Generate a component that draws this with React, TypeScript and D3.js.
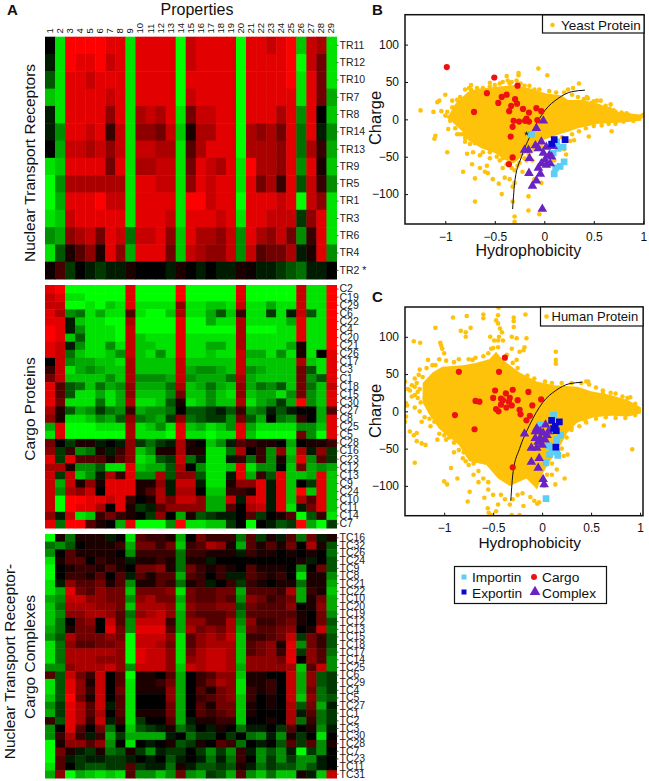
import * as d3 from "d3";
import { useEffect, useRef } from "react";

// heatmap values: -9 full green, 0 black, 9 full red
const receptorLabels = ["TR11","TR12","TR10","TR7","TR8","TR14","TR13","TR9","TR5","TR1","TR3","TR6","TR4","TR2 *"];
const receptorRows = [
  [0,-8,9,9,9,9,8,8,-8,8,8,8,8,-9,7,8,8,8,8,-9,8,8,7,8,9,-7,7,6,-8],
  [-1,-8,9,8,8,9,7,8,-8,8,8,8,8,-9,7,8,8,8,8,-9,8,8,8,8,9,-9,7,4,-8],
  [-3,-8,8,8,7,8,8,8,-8,8,8,8,8,-9,8,8,8,8,8,-9,8,8,8,8,9,-8,8,4,-8],
  [-7,-8,8,8,8,8,7,8,-8,8,8,8,8,-9,7,8,8,8,8,-9,8,8,8,8,8,-8,8,4,-6],
  [-1,-8,8,8,8,8,5,8,-8,6,7,6,8,-8,4,7,7,8,8,-9,8,8,8,6,8,-5,8,0,-7],
  [-1,-5,8,8,7,8,2,7,-8,5,5,4,7,-7,1,6,6,8,8,-9,6,5,6,4,8,-4,8,-1,-5],
  [0,-6,7,7,6,7,5,7,-8,7,7,6,6,-8,3,6,8,8,8,-9,6,6,6,5,8,-4,6,2,-6],
  [-8,-7,8,8,8,8,4,8,-8,6,6,7,7,-8,4,8,7,6,8,-8,9,6,6,5,8,-5,8,1,-7],
  [-9,-5,6,6,6,6,6,6,-8,8,8,7,7,-8,5,8,7,8,8,-8,8,4,6,2,8,-3,7,2,-5],
  [-9,-6,8,8,8,9,7,7,-8,8,8,8,8,-8,9,9,7,8,8,-9,8,8,8,7,8,-9,7,5,-8],
  [-8,-7,7,8,8,8,8,8,-8,8,8,8,7,-8,8,8,8,7,8,-8,8,8,7,7,7,-2,5,8,-8],
  [-5,-6,5,6,7,4,8,7,-4,7,7,8,5,-7,8,6,6,5,7,-5,8,6,5,7,4,-5,2,8,-8],
  [-8,-3,1,3,5,1,8,5,-6,8,8,8,4,-7,7,6,5,5,7,-5,7,3,4,4,6,-1,1,8,-5],
  [0.5,2.5,-2,0,-1,-2,-1,-1,1,0,0,0,-1,1,0,-1,0,-1,-1,1,0.5,-1,-1,-2,-3,-4,-1,-1,0],
];

const cargoLabels = ["C2","C19","C29","C6","C22","C4","C20","C21","C26","C17","C3","C1","C18","C15","C30","C27","C8","C25","C5","C28","C16","C23","C12","C13","C9","C24","C10","C11","C14","C7"];
const cargoRows = [
  [8,9,-9,-9,-9,-9,-9,-9,8,-9,-9,-9,-9,9,-9,-9,-9,-9,-9,8,-9,-9,-9,-9,-9,7,-8,-8,9],
  [7,8,-8,-8,-9,-9,-9,-9,8,-9,-9,-9,-9,9,-9,-9,-9,-9,-9,8,-9,-9,-9,-9,-9,7,-8,-8,9],
  [7,7,-9,-9,-8,-9,-7,-8,8,-8,-8,-8,-8,5,-8,-8,-7,-7,-8,7,-8,-8,-6,-8,-8,7,-8,-8,9],
  [8,6,-5,-4,-8,-6,-8,-8,3,-8,-9,-9,-7,6,-8,-8,-6,-3,-7,2,-8,-8,-2,-8,-1,7,-3,-8,9],
  [8,8,-1,-7,-8,-8,-9,-9,6,-9,-9,-9,-9,8,-9,-9,-6,-8,-8,6,-8,-8,-8,-8,-6,8,-8,-8,9],
  [9,8,-1,-5,-8,-8,-8,-9,7,-9,-9,-9,-9,8,-9,-9,-9,-9,-9,6,-9,-9,-9,-8,-8,8,-8,-8,9],
  [9,8,-7,-3,-8,-8,-8,-9,7,-7,-8,-8,-8,8,-8,-8,-8,-8,-8,6,-8,-8,-8,-8,-8,8,-8,-8,9],
  [8,7,-1,-5,-8,-8,-5,-8,7,-7,-7,-8,-8,8,-8,-8,-6,-6,-8,6,-8,-8,-8,-8,-6,1,-8,-8,9],
  [8,7,-4,-7,-8,-8,-7,-5,7,-7,-8,-5,-8,8,-8,-8,-7,-8,-8,7,-6,-6,-8,-5,-8,1,-8,0,8],
  [0,7,-5,-6,-6,-7,-7,-8,6,-7,-7,-7,-7,7,-7,-7,-7,-7,-7,7,-7,-7,-7,-7,-7,6,-7,-8,8],
  [2,7,-8,-6,-5,-6,-7,-7,6,-7,-7,-7,-7,7,-6,-5,-5,-6,-7,7,-5,-6,-7,-7,-7,4,-3,-8,8],
  [4,7,-7,-7,-7,-7,-5,-7,6,-5,-5,-5,-6,7,-5,-6,-6,-6,-4,6,-6,-7,-7,-7,-7,4,-5,-3,8],
  [8,3,-3,-4,-7,-4,-6,-5,5,-6,-6,-6,-4,6,-7,-6,-4,-6,-7,5,-6,-4,-5,-3,-7,4,-4,-7,7],
  [8,3,-3,-8,-8,-6,-8,-6,5,-7,-7,-7,-5,4,-7,-7,-5,-7,-8,5,-7,-6,-6,-8,-5,4,-5,-7,8],
  [8,4,-8,-8,-8,-4,-8,-6,6,-8,-8,-7,-3,1,-8,-7,-5,-7,-7,6,-8,-6,-5,-2,-6,9,-5,-7,8],
  [6,1,-3,-6,-5,-2,-4,-5,2,-6,-5,-5,-4,0,-3,-3,-2,-1,-3,2,-5,-4,-1,-3,-1,0,0,-6,3],
  [5,1,-8,-8,-7,-5,-6,-3,5,-4,-5,-6,-2,5,-4,-3,-2,-2,-5,4,-3,-6,0,-4,-5,2,0,-6,8],
  [-6,8,-9,-9,-9,-8,-8,-8,6,-8,-7,-5,-8,8,-7,-6,-8,-7,-5,8,-6,-8,-8,-8,-8,-5,-5,-7,8],
  [-8,8,-9,-9,-9,-9,-9,-9,6,-8,-8,-8,-9,8,-8,-8,-9,-8,-8,8,-7,-9,-9,-9,-9,4,-5,-9,8],
  [4,0,-2,1,1,-1,0,-1,5,-2,-4,-2,-1,6,1,0,-7,-5,-1,3,2,1,1,0,-6,0,1,1,2],
  [5,-2,2,-5,-4,1,-1,2,5,-7,-5,1,1,6,1,1,-8,-8,-4,6,0,2,-5,5,-7,6,-1,5,-2],
  [8,-2,8,3,3,3,1,3,5,-8,-7,-3,-2,7,-4,-1,-8,-8,-1,2,-4,2,-5,1,-6,8,-5,3,-2],
  [6,6,1,-5,-5,-3,-8,-8,8,-7,-6,-6,-3,6,0,-5,-8,-8,-7,8,-8,-5,-5,0,-7,4,-6,-5,-6],
  [7,-2,7,-7,-5,-1,6,2,8,-5,-5,6,-3,5,5,-3,-8,-8,-1,8,-6,2,-3,8,-7,-7,-6,8,-7],
  [7,-6,7,1,5,1,8,8,8,1,1,5,-1,7,7,-1,-8,-8,1,5,5,8,-1,8,-7,0,-2,8,-7],
  [7,-5,6,5,7,0,8,8,8,1,3,6,-1,6,6,0,-7,-7,2,2,1,8,-1,8,-7,9,-7,8,-7],
  [7,-9,9,9,8,8,7,8,2,0,1,6,4,7,7,5,-6,-6,7,-1,7,8,-1,8,-7,6,3,8,-7],
  [7,-9,9,8,8,6,0,8,1,-2,-1,3,5,5,5,5,-6,-6,3,0,6,7,-1,8,-8,-1,4,8,-7],
  [5,-1,7,-8,-7,2,4,2,1,0,-2,5,0,-6,1,-3,-2,-1,-1,0,3,-2,0,1,3,-9,-3,2,-8],
  [8,-4,9,9,3,1,0,-6,8,-9,-9,-9,-5,9,-8,-8,-7,-7,-2,0,-9,0,-1,-3,-2,9,-6,-9,-2],
];

const complexLabels = ["TC16","TC32","TC26","TC24","TC9","TC8","TC21","TC22","TC10","TC20","TC19","TC12","TC13","TC15","TC18","TC17","TC14","TC25","TC6","TC29","TC4","TC5","TC27","TC1","TC2","TC3","TC30","TC28","TC7","TC23","TC11","TC31"];
const complexRows = [
  [-9,1,-4,1,1,1,-1,0,-8,3,2,2,1,-6,0,4,2,2,2,-4,3,-2,1,-1,3,-4,4,-1,1],
  [-4,-5,-3,0,1,1,1,2,-6,4,4,2,4,-7,2,3,6,5,1,-6,3,1,3,1,4,0,6,1,-3],
  [-5,0,3,1,1,1,1,0,-5,2,2,2,2,-4,2,2,1,1,1,-1,2,1,1,0,1,0,1,0,-4],
  [-8,1,3,3,0,2,1,1,-1,1,1,2,1,-4,1,1,-1,0,0,0,0,0,0,0,0,1,-1,0,-3],
  [-9,0,1,2,2,1,3,1,0,4,4,5,1,-4,4,2,1,2,1,0,3,1,1,1,0,-5,0,4,-3],
  [-9,0,2,2,1,3,0,3,-1,3,1,3,3,-6,3,2,0,2,-1,-1,3,2,1,2,0,-8,1,1,-5],
  [-8,-1,5,3,3,4,1,3,-5,1,1,3,2,-4,1,2,-1,0,2,-2,2,1,0,1,1,-4,1,1,-6],
  [-8,-6,8,4,3,5,4,4,-7,4,4,4,5,-8,4,3,3,4,4,-6,3,3,3,2,6,-6,2,1,-7],
  [-6,-5,7,7,5,5,4,4,-5,5,6,4,4,-6,4,3,3,4,3,-5,5,4,2,3,4,-6,1,4,-6],
  [-7,-4,6,6,6,5,5,4,-7,6,6,6,5,-7,5,4,4,5,5,-3,4,3,3,3,5,0,1,5,-6],
  [-7,-5,5,5,6,6,5,3,-4,5,6,7,5,-6,4,3,3,3,4,-4,3,3,3,3,3,1,0,4,-5],
  [-7,-4,0,4,5,0,7,3,-5,7,7,7,2,-6,5,5,3,3,6,-5,5,2,2,3,4,1,0,4,-3],
  [-6,-4,1,4,4,0,8,4,-5,8,8,8,3,-6,6,4,5,4,6,-6,4,3,3,4,5,0,1,7,-4],
  [-5,-3,6,4,4,4,5,4,-9,7,7,7,5,-8,3,5,6,5,7,-7,2,2,3,4,7,-2,4,2,-3],
  [-8,-4,5,3,3,4,4,5,-9,7,7,6,4,-8,3,5,6,6,6,-7,3,4,5,1,8,-5,4,2,-3],
  [-8,-4,6,6,6,6,6,5,-9,8,7,7,5,-8,4,6,7,7,6,-7,3,4,5,2,8,-2,5,3,-4],
  [-8,-4,6,6,6,5,5,5,-9,8,7,7,5,-8,5,6,7,7,6,-7,5,5,5,4,8,0,5,3,-5],
  [-5,-5,5,6,6,6,7,5,-5,7,7,7,5,-7,7,6,7,7,6,-6,5,5,5,5,6,-7,3,7,-5],
  [3,-3,7,4,2,7,0,3,-9,1,1,0,3,-6,0,2,3,5,5,-7,1,1,0,0,7,-6,5,-3,-2],
  [-8,-3,8,5,1,7,0,3,-8,1,1,2,4,-6,0,2,4,6,5,-8,1,1,2,0,7,-6,5,-3,-2],
  [-8,-3,8,5,2,7,0,4,-8,1,1,1,5,-6,0,3,1,4,5,-8,2,1,2,0,7,-6,4,-4,-2],
  [-7,-3,9,4,1,7,0,3,-8,0,0,0,5,-6,0,2,3,4,5,-7,2,0,1,0,7,-7,5,-4,-3],
  [-5,-2,8,6,3,7,-1,3,-8,0,0,0,4,-6,0,3,1,4,4,-7,1,0,1,0,6,-3,4,-6,-1],
  [-6,-2,8,6,3,6,0,3,-8,1,1,1,4,-6,0,3,2,3,4,-7,1,0,0,0,6,-1,3,-4,-2],
  [2,-3,8,6,2,7,-1,2,-8,-2,0,0,3,-6,-1,1,1,2,2,-7,0,0,1,0,6,-4,2,-4,-2],
  [-5,0,8,3,0,4,-4,0,-7,-3,-2,-1,1,-4,-2,0,-1,1,0,-4,-1,-1,0,-2,3,0,1,-5,-1],
  [-5,2,6,2,-1,2,-6,-2,-6,-6,-6,-6,-1,0,-4,-2,-2,0,-2,0,-4,-5,-1,-5,1,-2,0,-8,0],
  [-9,1,5,5,3,5,-5,0,-8,0,-1,0,1,-3,-2,1,0,3,2,-4,0,-1,0,-3,3,-2,3,-5,1],
  [-9,4,1,-1,-2,1,-4,-3,1,-2,-5,-1,-2,-2,0,-2,-5,-2,-5,2,-1,-5,-3,-5,-1,-9,-2,-5,0],
  [-9,3,-1,-2,-1,-1,-2,-2,-1,0,-1,0,-3,-1,0,-1,-4,-1,-4,2,0,-5,-2,-5,-2,-5,-5,-1,0],
  [-8,3,0,-2,-3,-3,-2,-2,3,-2,-1,-1,-4,1,-1,-3,-3,-2,-3,1,-1,-4,-2,-3,-3,-5,-3,-1,0],
  [-6,5,-9,-6,-7,-8,-7,-8,3,-5,-5,-7,-5,4,-5,-6,-2,-3,-6,3,-5,-7,-4,-7,-7,1,-1,-7,7],
];

const properties = d3.range(1, 30).map(String);

// [hydrophobicity, charge]; the core is the outline of the solid part of each cloud
const yeastCore = [[-0.97,4],[-0.9,21],[-0.77,37],[-0.67,41],[-0.46,44],[-0.3,46],[-0.13,41],[0.01,35],[0.175,32],[0.24,26],[0.38,26],[0.55,21],[0.75,10],[0.98,6],[0.98,-2],[0.75,-4.5],[0.55,-6],[0.34,-12],[0.24,-16.5],[0.175,-19],[0.07,-24],[-0.06,-30],[-0.13,-39],[-0.23,-50],[-0.31,-59],[-0.4,-54],[-0.5,-45],[-0.63,-39],[-0.77,-28],[-0.83,-16],[-0.92,-5]];
const yeastPoints = [[-1.25,12],[-1.12,10],[-1.04,11],[-1.08,23],[-1.06,25],[-1,33],[-0.93,25],[-0.88,26],[-0.97,-13],[-0.98,-44],[-1.1,-22],[-1.11,-26],[-0.87,18],[-0.9,10],[-0.96,3],[-0.85,-20],[-0.82,-20],[-0.8,-30],[-0.82,-70],[-0.78,-46],[-0.72,-44],[-0.73,-60],[-0.7,-79],[-0.7,-110],[-0.65,-48],[-0.65,-65],[-0.6,-70],[-0.57,-72],[-0.58,-62],[-0.52,-80],[-0.46,-86],[-0.43,-100],[-0.4,-78],[-0.35,-80],[-0.32,-110],[-0.3,-130],[-0.3,-137],[-0.16,-103],[-0.16,-122],[-0.05,-127],[-0.03,-85],[-0.05,-65],[-0.1,-80],[-0.32,-90],[-0.3,-85],[-0.27,-62],[-0.22,-70],[-0.06,68],[0.03,59],[-0.26,62],[-0.26,59],[-0.38,58],[-0.37,52],[-0.33,50],[-0.55,49],[-0.74,46],[-0.74,40],[-0.68,42],[-0.6,38],[-0.35,48],[-0.2,45],[-0.1,40],[0.35,48],[0.29,42],[0.24,40],[0.43,30],[0.44,28],[0.57,25],[0.67,20],[0.7,12],[0.68,-16],[0.45,-23],[0.3,-28],[0.26,-29],[0.2,-40],[0.1,-55],[0.22,-47],[0.1,-70],[0.87,4],[0.92,3],[0.95,2],[1,6],[0.98,4],[0.8,5],[0.62,18],[0.5,24],[0.85,6],[-0.15,-45],[-0.18,-55],[-0.12,-55],[-0.45,-55],[-0.55,-52],[-0.42,-65],
  [-0.8,40],[-0.76,42],[-0.72,35],[-0.62,42],[-0.55,44],[-0.5,46],[-0.45,48],[-0.42,50],[-0.28,52],[-0.24,48],[-0.15,45],[-0.05,40],[0.05,38],[0.12,36],[0.2,36],[0.28,33],[0.34,30],[0.4,27],[0.48,22],[0.53,25],[0.6,15],[0.66,14],[0.72,10],[0.78,9],[0.83,8],
  [-0.9,-12],[-0.88,-20],[-0.8,-25],[-0.75,-33],[-0.7,-32],[-0.62,-44],[-0.55,-44],[-0.48,-50],[-0.42,-52],[-0.38,-60],[-0.33,-65],[-0.3,-68],[-0.25,-58],[-0.2,-52],[-0.16,-46],[-0.1,-40],[-0.03,-36],[0.1,-28],[0.18,-24],[0.28,-20],[0.35,-16],[0.42,-12],[0.5,-9],[0.58,-8],[0.65,-6],[0.72,-6],[0.8,-3],[0.9,-2],[-0.98,10],[-1,5],[-0.95,-2],[-0.93,16],[-0.85,30]];
const yeastCargo = [[-0.985,70],[-0.505,56],[-0.58,35],[-0.27,45],[-0.71,10],[-0.43,30],[-0.38,33],[-0.465,22],[-0.295,27],[-0.275,21],[-0.335,18],[-0.355,11],[-0.215,14],[-0.155,9],[-0.08,15],[-0.03,11],[-0.07,-1],[-0.31,-2],[-0.255,-3],[-0.195,-2],[-0.18,1],[-0.155,-3],[-0.32,-10],[-0.34,-23],[-0.32,-51],[-0.357,-60]];
const yeastComplex = [[-0.01,-2],[-0.08,-12],[-0.03,-30],[-0.09,-35],[-0.16,-41],[-0.2,-41],[-0.15,-52],[0.02,-37],[-0.01,-45],[-0.06,-39],[0.05,-48],[0.007,-54],[-0.03,-59],[0.06,-59],[-0.06,-65],[-0.155,-72],[-0.04,-73],[-0.08,-82],[-0.12,-89],[-0.02,-120],[0.074,-50],[0.02,-61],[0.09,-36]];
const yeastImportin = [[-0.13,-20],[0.125,-30],[0.19,-37],[0.09,-45],[0.2,-57],[0.16,-63],[0.115,-65],[0.1,-73],[0.14,-39]];
const yeastExportin = [[0.1,-27],[0.21,-27],[0.074,-33]];
const starPoint = [[-0.18,-19]];

const humanCore = [[-1.22,38],[-1.12,52],[-1.02,60],[-0.81,62],[-0.68,65],[-0.54,70],[-0.47,80],[-0.4,69],[-0.23,52],[-0.055,40],[0.12,35],[0.36,33],[0.5,27],[0.7,22],[0.88,15],[1.01,5],[1.01,-3],[0.88,-7],[0.7,-6],[0.53,-8],[0.36,-15],[0.255,-29],[0.19,-45],[0.08,-67],[0,-85],[-0.05,-105],[-0.16,-90],[-0.33,-100],[-0.45,-90],[-0.57,-72],[-0.745,-67],[-0.85,-45],[-1.055,-23],[-1.16,-3],[-1.22,12]];
const humanPoints = [[-0.445,139],[-0.91,126],[-0.77,128],[-0.6,130],[-0.6,125],[-0.45,129],[-0.29,126],[-0.29,121],[-0.17,130],[-1.09,112],[-0.83,108],[-0.78,106],[-0.73,112],[-0.78,100],[-0.47,122],[-0.45,118],[-0.43,111],[-0.41,106],[-0.29,113],[-0.31,100],[-0.53,100],[-0.49,95],[-0.45,95],[-0.4,95],[-0.26,98],[-0.16,98],[-0.18,86],[-0.19,82],[-1.31,94],[-1.245,92],[-1.04,92],[-1.03,88],[-1.02,84],[-1,78],[-1.165,69],[0.14,80],[0.14,69],[0.14,64],[-0.52,84],[-0.45,86],[-0.31,84],[-0.23,80],[-0.26,69],[-0.71,69],[-1.09,62],[-1.26,49],[-1.4,40],[-1.33,35],[-1.39,11],[-1.39,-7],[-1.4,-14],[-1.35,-27],[-1.31,-32],[-1.28,-29],[-1.28,-40],[-1.23,-43],[-1.19,-45],[-1.3,-69],[-1.23,-14],[-1.14,-20],[-1.07,-38],[-1,-32],[-0.98,-38],[-0.93,-76],[-1,-94],[-0.97,-98],[-0.865,-90],[-0.81,-63],[-0.78,-67],[-0.74,-108],[-0.76,-121],[-0.59,-116],[-0.555,-130],[-0.545,-136],[-0.52,-139],[-0.47,-134],[-0.45,-125],[-0.33,-125],[-0.31,-139],[-0.23,-139],[-0.19,-127],[-0.05,-124],[0.92,-51],[0.135,-98],[0.23,-90],[0.26,-58],[0.63,-19],[0.9,19],[0.62,24],[0.47,40],[0.44,-12],[0.3,-22],[0.22,-60],[0.15,-78],[-0.9,-55],[-0.7,-85],[-0.65,-95],[-0.55,-105],[0.1,-85],
  [-1.3,44],[-1.25,56],[-1.18,58],[-1.12,62],[-1.05,70],[-0.98,68],[-0.9,66],[-0.85,70],[-0.75,70],[-0.68,72],[-0.6,74],[-0.55,78],[-0.5,85],[-0.44,100],[-0.36,76],[-0.3,65],[-0.25,58],[-0.15,48],[-0.08,44],[0.03,40],[0.1,38],[0.2,38],[0.3,38],[0.4,38],[0.45,40],[0.48,36],[0.55,32],[0.62,28],[0.7,25],[0.75,24],[0.82,20],[0.87,18],[0.95,10],
  [-1.38,8],[-1.3,5],[-1.25,0],[-1.2,-8],[-1.15,-10],[-1.1,-14],[-1.05,-30],[-1,-25],[-0.95,-35],[-0.9,-42],[-0.85,-52],[-0.8,-55],[-0.75,-72],[-0.7,-70],[-0.65,-80],[-0.6,-90],[-0.55,-95],[-0.5,-112],[-0.42,-112],[-0.38,-118],[-0.3,-118],[-0.25,-112],[-0.2,-110],[-0.12,-115],[-0.08,-120],[-0.03,-122],[0.02,-100],[0.05,-85],[0.1,-70],[0.15,-55],[0.2,-50],[0.25,-35],[0.3,-25],[0.38,-20],[0.45,-15],[0.55,-10],[0.65,-8],[0.75,-9],[0.85,-9],[0.95,-5],
  [-1.35,28],[-1.3,22],[-1.3,33],[-1.27,18],[-1.33,20],[-1.37,30],[-1.25,30],[-1.28,38],[-1.24,12],[-1.27,26],[-1.22,46],[-1.2,18]];
const humanCargo = [[-0.38,72],[-0.44,53],[-0.85,53],[-0.89,-5],[-0.69,-24],[-0.68,14],[-0.64,13],[-0.48,28],[-0.5,18],[-0.37,24],[-0.3,29],[-0.14,26],[-0.01,16],[-0.1,8],[-0.4,15],[-0.42,9],[-0.33,18],[-0.25,15],[-0.31,8],[-0.365,5],[-0.47,3],[-0.445,0],[-0.23,2],[-0.22,-4],[-0.125,-6],[-0.16,-12],[-0.3,-75],[-0.34,13],[-0.42,17]];
const humanComplex = [[-0.18,-30],[-0.055,-23],[0.035,-18],[-0.11,-49],[-0.04,-41],[0.01,-29],[-0.02,-36],[-0.07,-36],[0.05,-32],[-0.055,-49],[0,-45],[0.065,-27],[-0.11,-68],[-0.03,-63],[-0.04,-76],[0.01,-91],[0.02,-98],[-0.02,-27],[-0.07,-27],[0.03,-38]];
const humanImportin = [[0.117,-5],[-0.02,-18],[0.186,-32],[0.15,-38],[0.065,-46],[0.1,-49],[0.15,-54],[0.16,-59],[0.076,-58],[0.04,-69],[0.04,-117],[0.124,-25]];
const humanExportin = [[0.097,-12],[0.176,-14],[0.134,-20],[0.117,-23],[0.145,-26],[0.14,-48]];

const fitCurve = [[-0.32,-120],[-0.296,-81],[-0.23,-50],[-0.13,-19],[0.007,12],[0.14,28],[0.276,37],[0.41,39]];

const xTicks = [-1, -0.5, 0, 0.5, 1];
const yTicks = [-100, -50, 0, 50, 100];

const sans = "'Liberation Sans', Arial, sans-serif";
const YELLOW = "#ffc20a";
const RED = "#ee1111";
const SKY = "#5ccdf5";
const BLUE = "#0808d0";
const PURPLE = "#6a22c4";

const cellColor = d3.scaleLinear<string>().domain([-9, 0, 9]).range(["#00ff00", "#000000", "#ff0000"]);

const drawHeatmap = (svg, top, bottom, rows, labels) => {
  const x = d3.scaleBand().domain(properties).range([45, 336.5]);
  const y = d3.scaleBand().domain(labels).range([top, bottom]);
  const g = svg.append("g").attr("filter", "url(#soft)");
  rows.forEach((row, r) => {
    g.selectAll(null)
      .data(row)
      .join("rect")
      .attr("x", (d, i) => x(properties[i]))
      .attr("y", y(labels[r]))
      .attr("width", x.bandwidth() + 0.5)
      .attr("height", y.bandwidth() + 0.5)
      .attr("fill", d => cellColor(d));
  });
  const axis = d3.axisRight(y).tickSize(2).tickPadding(1);
  svg.append("g")
    .attr("transform", "translate(336.5,0)")
    .call(axis)
    .call(a => a.select(".domain").remove())
    .call(a => a.selectAll("text").attr("font-size", 10.5).attr("font-family", sans).attr("fill", "#222"))
    .call(a => a.selectAll("line").attr("stroke", "#555"));
  return x;
};

const drawScatter = (svg, id, box, domainX, core, points, cargo, complex, importin, exportin) => {
  const x = d3.scaleLinear().domain(domainX).range([box.left, box.right]);
  const y = d3.scaleLinear().domain([-140, 140]).range([box.bottom, box.top]);
  svg.append("clipPath").attr("id", id).append("rect")
    .attr("x", box.left).attr("y", box.top)
    .attr("width", box.right - box.left).attr("height", box.bottom - box.top);
  const plot = svg.append("g").attr("clip-path", `url(#${id})`);

  plot.append("path")
    .attr("d", d3.line().x(d => x(d[0])).y(d => y(d[1])).curve(d3.curveLinearClosed)(core))
    .attr("fill", YELLOW);
  plot.selectAll(null).data(points).join("circle")
    .attr("cx", d => x(d[0])).attr("cy", d => y(d[1])).attr("r", 2.3).attr("fill", YELLOW);
  plot.append("path")
    .attr("d", d3.line().x(d => x(d[0])).y(d => y(d[1])).curve(d3.curveMonotoneX)(fitCurve))
    .attr("fill", "none").attr("stroke", "#111").attr("stroke-width", 1);
  plot.selectAll(null).data(importin).join("path")
    .attr("transform", d => `translate(${x(d[0])},${y(d[1])})`)
    .attr("d", d3.symbol(d3.symbolSquare, 45)()).attr("fill", SKY);
  plot.selectAll(null).data(cargo).join("circle")
    .attr("cx", d => x(d[0])).attr("cy", d => y(d[1])).attr("r", 3.1).attr("fill", RED);
  plot.selectAll(null).data(complex).join("path")
    .attr("transform", d => `translate(${x(d[0])},${y(d[1])})`)
    .attr("d", d3.symbol(d3.symbolTriangle, 40)()).attr("fill", PURPLE);
  plot.selectAll(null).data(exportin).join("path")
    .attr("transform", d => `translate(${x(d[0])},${y(d[1])})`)
    .attr("d", d3.symbol(d3.symbolSquare, 45)()).attr("fill", BLUE);

  const bottomAxis = d3.axisBottom(x).tickValues(xTicks).tickFormat(d3.format("")).tickSize(-3).tickPadding(8);
  const leftAxis = d3.axisLeft(y).tickValues(yTicks).tickFormat(d3.format("")).tickSize(-3).tickPadding(6);
  [
    svg.append("g").attr("transform", `translate(0,${box.bottom})`).call(bottomAxis),
    svg.append("g").attr("transform", `translate(${box.left},0)`).call(leftAxis),
  ].forEach(a => {
    a.selectAll("text").attr("font-size", 12).attr("font-family", sans).attr("fill", "#111");
    a.select(".domain").remove();
    a.selectAll("line").attr("stroke", "#111");
  });
  svg.append("rect")
    .attr("x", box.left).attr("y", box.top)
    .attr("width", box.right - box.left).attr("height", box.bottom - box.top)
    .attr("fill", "none").attr("stroke", "#111").attr("stroke-width", 1.5);
};

const App = () => {
  const ref = useRef(null);

  useEffect(() => {
    const svg = d3.select(ref.current);
    svg.selectAll("*").remove();

    const text = (str, x, y, size, opts: any = {}) => {
      const t = svg.append("text")
        .attr("x", x).attr("y", y)
        .attr("font-family", sans).attr("font-size", size)
        .attr("text-anchor", opts.anchor || "start")
        .attr("font-weight", opts.weight || "normal")
        .attr("fill", "#111")
        .text(str);
      if (opts.rotate) t.attr("transform", `rotate(-90,${x},${y})`);
      return t;
    };

    svg.append("defs").append("filter").attr("id", "soft")
      .attr("x", "-2%").attr("y", "-2%").attr("width", "104%").attr("height", "104%")
      .append("feGaussianBlur").attr("stdDeviation", 0.7);

    // panel A
    const colX = drawHeatmap(svg, 36.7, 279, receptorRows, receptorLabels);
    drawHeatmap(svg, 285, 528, cargoRows, cargoLabels);
    drawHeatmap(svg, 534, 778, complexRows, complexLabels);

    properties.forEach(p => {
      text(p, colX(p) + colX.bandwidth() / 2 + 3, 33.5, 9.5, { rotate: true });
    });

    text("A", 7, 14.5, 15, { weight: "bold" });
    text("Properties", 197, 15, 16, { anchor: "middle" });
    text("Nuclear Transport Receptors", 35, 163, 15.5, { anchor: "middle", rotate: true });
    text("Cargo Proteins", 35, 409, 15.5, { anchor: "middle", rotate: true });
    text("Nuclear Transport Receptor-", 15, 661.5, 15.5, { anchor: "middle", rotate: true });
    text("Cargo Complexes", 35, 657, 15.5, { anchor: "middle", rotate: true });

    // panels B and C
    text("B", 372, 15, 15, { weight: "bold" });
    drawScatter(svg, "clipB", { left: 405, right: 644, top: 14.7, bottom: 224 }, [-1.407, 1.007],
      yeastCore, yeastPoints, yeastCargo, yeastComplex, yeastImportin, yeastExportin);
    text("C", 372, 302, 15, { weight: "bold" });
    drawScatter(svg, "clipC", { left: 405, right: 643, top: 307, bottom: 515.7 }, [-1.4, 1.03],
      humanCore, humanPoints, humanCargo, humanComplex, humanImportin, humanExportin);

    const bx = d3.scaleLinear().domain([-1.407, 1.007]).range([405, 644]);
    const by = d3.scaleLinear().domain([-140, 140]).range([224, 14.7]);
    starPoint.forEach(d => {
      svg.append("path")
        .attr("transform", `translate(${bx(d[0])},${by(d[1])})`)
        .attr("d", d3.symbol(d3.symbolStar, 8)())
        .attr("fill", "#222");
    });

    text("Hydrophobicity", 528.3, 256, 16, { anchor: "middle" });
    text("Charge", 381, 118, 16.5, { anchor: "middle", rotate: true });
    text("Hydrophobicity", 529.7, 548, 15.5, { anchor: "middle" });
    text("Charge", 381, 411, 16.5, { anchor: "middle", rotate: true });

    // in-plot legends
    const legendBox = (x, y, w, h) => svg.append("rect")
      .attr("x", x).attr("y", y).attr("width", w).attr("height", h)
      .attr("fill", "#fff").attr("stroke", "#111").attr("stroke-width", 1.2);
    legendBox(542.5, 15, 101.5, 18);
    svg.append("circle").attr("cx", 552.5).attr("cy", 25).attr("r", 2.3).attr("fill", YELLOW);
    text("Yeast Protein", 561, 30, 13.5);
    legendBox(540.5, 307, 102.5, 19);
    svg.append("circle").attr("cx", 546.5).attr("cy", 316.5).attr("r", 2.3).attr("fill", YELLOW);
    text("Human Protein", 551.5, 321, 13);

    // shared legend
    legendBox(454.5, 566.5, 152, 37);
    const mark = (sym, color, x, y, size) => svg.append("path")
      .attr("transform", `translate(${x},${y})`)
      .attr("d", d3.symbol(sym, size)()).attr("fill", color);
    mark(d3.symbolSquare, SKY, 464, 577, 25);
    text("Importin", 472, 582, 13.7);
    mark(d3.symbolSquare, BLUE, 464, 592, 25);
    text("Exportin", 472, 598, 13.7);
    mark(d3.symbolCircle, RED, 534, 577, 28);
    text("Cargo", 542, 582, 13.7);
    mark(d3.symbolTriangle, PURPLE, 535, 592, 50);
    text("Complex", 542, 598, 13.7);
  }, []);

  return <svg ref={ref} width={649} height={781} style={{ position: "absolute", left: 0, top: 0, background: "#fff" }} />;
};

export default App;
